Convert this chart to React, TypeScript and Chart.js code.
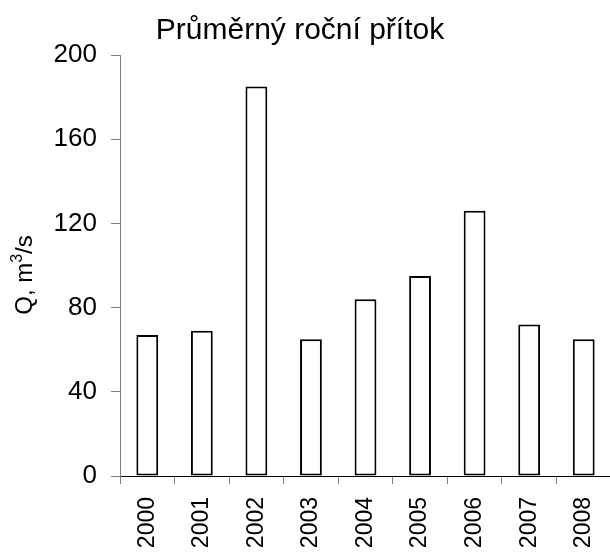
import React, { useEffect, useRef } from "react";
import { Chart, registerables } from "chart.js";

Chart.register(...registerables);

const TITLE = "Průměrný roční přítok";
const Y_TITLE_MAIN = "Q, m";
const Y_TITLE_SUP = "3";
const Y_TITLE_END = "/s";
const YEARS = ["2000", "2001", "2002", "2003", "2004", "2005", "2006", "2007", "2008"];
const FLOW = [67, 69, 185, 65, 84, 95, 126, 72, 65];
const Y_MIN = 0;
const Y_MAX = 200;
const Y_STEP = 40;

const FONT = "'Liberation Sans', Arial, sans-serif";

const textPlugin = {
  id: "customText",
  afterDraw(chart: any) {
    const ctx = chart.ctx;
    ctx.save();
    ctx.fillStyle = "#000";
    ctx.font = `30px ${FONT}`;
    ctx.textAlign = "center";
    ctx.textBaseline = "alphabetic";
    ctx.fillText(TITLE, 300, 39);

    // y-axis title with superscript
    const big = `24px ${FONT}`;
    const small = `16px ${FONT}`;
    ctx.font = big;
    const w1 = ctx.measureText(Y_TITLE_MAIN).width;
    const w3 = ctx.measureText(Y_TITLE_END).width;
    ctx.font = small;
    const w2 = ctx.measureText(Y_TITLE_SUP).width;
    const total = w1 + w2 + w3;
    ctx.translate(32, 275);
    ctx.rotate(-Math.PI / 2);
    ctx.textAlign = "left";
    let x = -total / 2;
    ctx.font = big;
    ctx.fillText(Y_TITLE_MAIN, x, 0);
    x += w1;
    ctx.font = small;
    ctx.fillText(Y_TITLE_SUP, x, -10);
    x += w2;
    ctx.font = big;
    ctx.fillText(Y_TITLE_END, x, 0);
    ctx.restore();
  },
};

export default function App() {
  const ref = useRef<HTMLCanvasElement>(null);
  useEffect(() => {
    if (!ref.current) return;
    const chart = new Chart(ref.current, {
      type: "bar",
      data: {
        labels: YEARS,
        datasets: [
          {
            data: FLOW,
            backgroundColor: "#ffffff",
            borderColor: "#000000",
            borderWidth: 2,
            borderSkipped: false,
            barPercentage: 0.4,
            categoryPercentage: 1,
          },
        ],
      },
      options: {
        animation: false,
        responsive: true,
        maintainAspectRatio: false,
        layout: { padding: { top: 55, left: 0, right: 0, bottom: 0 } },
        plugins: { legend: { display: false }, title: { display: false }, tooltip: { enabled: false } },
        scales: {
          x: {
            afterFit: (s: any) => {
              s.height = 82;
              s.paddingLeft = 0;
              s.paddingRight = 0;
            },
            grid: { display: true, drawOnChartArea: false, offset: true, tickLength: 8, color: "#808080" },
            border: { display: true, color: "#000000", width: 1 },
            ticks: {
              minRotation: 90,
              maxRotation: 90,
              padding: 13,
              color: "#000",
              font: { family: FONT, size: 23 },
            },
          },
          y: {
            min: Y_MIN,
            max: Y_MAX,
            afterFit: (s: any) => {
              s.width = 120;
              s.paddingTop = 0;
              s.paddingBottom = 0;
            },
            grid: { display: true, drawOnChartArea: false, tickLength: 9, color: "#808080" },
            border: { display: true, color: "#808080", width: 1 },
            ticks: {
              stepSize: Y_STEP,
              padding: 14,
              color: "#000",
              font: { family: FONT, size: 26 },
            },
          },
        },
      },
      plugins: [textPlugin],
    });
    return () => chart.destroy();
  }, []);
  return (
    <div style={{ position: "absolute", left: 0, top: 0, width: 610, height: 558, overflow: "hidden", background: "#fff" }}>
      <div style={{ position: "relative", width: 611, height: 558 }}>
        <canvas ref={ref} />
      </div>
    </div>
  );
}
